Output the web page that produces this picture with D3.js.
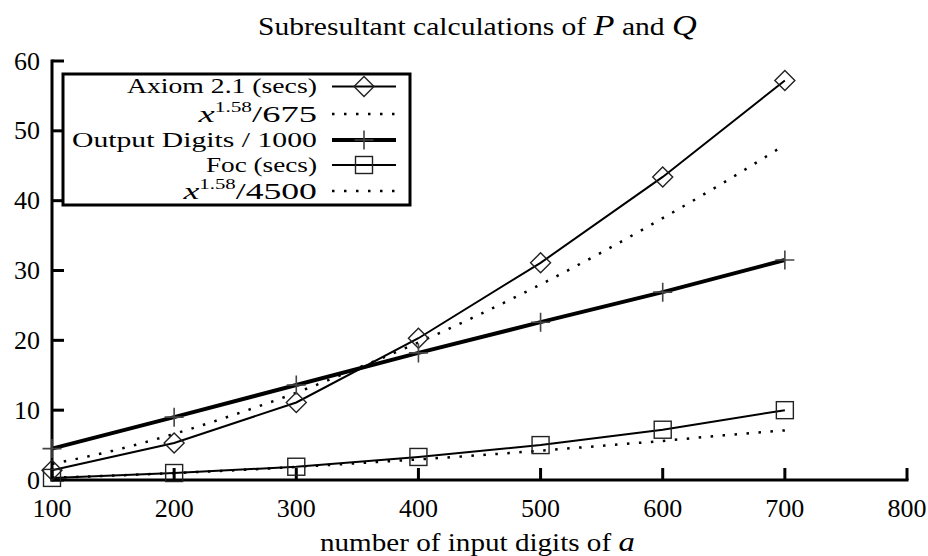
<!DOCTYPE html>
<html><head><meta charset="utf-8">
<script src="https://cdn.jsdelivr.net/npm/d3@7"></script>
<style>body{margin:0;background:#fff}svg{display:block}text{font-family:"Liberation Serif","DejaVu Serif",serif;fill:#000}</style>
</head><body><svg id="c" width="928" height="556"></svg>
<script>
const xs = [100,200,300,400,500,600,700];
const axiomSecs = [1.4,5.3,11.1,20.3,31.1,43.4,57.2];
const outputDigits = [4.5,9.0,13.6,18.2,22.6,26.9,31.5];
const focSecs = [0.3,1.0,1.9,3.3,5.0,7.2,10.0];
const fitX = [100,150,200,250,300,350,400,450,500,550,600,650,700];
const fitAxiom = [2.3,4.2,6.6,9.4,12.5,16.0,19.7,23.7,28.0,32.6,37.5,42.6,48.0];
const fitFoc = [0.33,0.63,0.99,1.40,1.87,2.4,2.95,3.55,4.2,4.9,5.6,6.4,7.1];
const xTicks = [100,200,300,400,500,600,700,800];
const yTicks = [0,10,20,30,40,50,60];

const svg = d3.select('#c');
const x = d3.scaleLinear().domain([100,800]).range([52,907]);
const y = d3.scaleLinear().domain([0,60]).range([480,61]);

// stretch a start-anchored text horizontally so it spans x0..x1
function fit(sel, x0, x1){
  const b = sel.node().getBBox();
  const s = (x1-x0)/b.width;
  sel.attr('transform',`translate(${x0 - b.x*s},0) scale(${s},1)`);
}

const line = d3.line().x(d=>x(d[0])).y(d=>y(d[1]));
const smooth = d3.line().x(d=>x(d[0])).y(d=>y(d[1])).curve(d3.curveMonotoneX);
const zip = (a,b)=>a.map((v,i)=>[v,b[i]]);

// series lines
svg.append('path').attr('d',line(zip(xs,axiomSecs))).attr('fill','none').attr('stroke','#000').attr('stroke-width',2);
svg.append('path').attr('d',smooth(zip(fitX,fitAxiom))).attr('fill','none').attr('stroke','#000').attr('stroke-width',2.5).attr('stroke-dasharray','2.5,9.5');
svg.append('path').attr('d',line(zip(xs,outputDigits))).attr('fill','none').attr('stroke','#000').attr('stroke-width',4);
svg.append('path').attr('d',line(zip(xs,focSecs))).attr('fill','none').attr('stroke','#000').attr('stroke-width',2);
svg.append('path').attr('d',smooth(zip(fitX,fitFoc))).attr('fill','none').attr('stroke','#000').attr('stroke-width',2.5).attr('stroke-dasharray','2.5,9.5');

// axes
const g = svg.append('g');
g.append('line').attr('x1',x(100)).attr('x2',x(100)).attr('y1',y(60)-1.5).attr('y2',y(0)+1.5).attr('stroke','#000').attr('stroke-width',3);
g.append('line').attr('x1',x(100)-1.5).attr('x2',x(800)+1.5).attr('y1',y(0)).attr('y2',y(0)).attr('stroke','#000').attr('stroke-width',3);
yTicks.forEach(t=>{
  g.append('line').attr('x1',x(100)).attr('x2',x(100)+12).attr('y1',y(t)).attr('y2',y(t)).attr('stroke','#000').attr('stroke-width',3);
  g.append('text').attr('x',40).attr('y',y(t)+8.5).attr('text-anchor','end').attr('font-size',26).text(t);
});
xTicks.forEach(t=>{
  g.append('line').attr('x1',x(t)).attr('x2',x(t)).attr('y1',y(0)).attr('y2',y(0)-12).attr('stroke','#000').attr('stroke-width',3);
  g.append('text').attr('x',x(t)).attr('y',517).attr('text-anchor','middle').attr('font-size',26).text(t);
});

// title
const tt = svg.append('text').attr('x',0).attr('y',35).attr('font-size',25);
tt.append('tspan').text('Subresultant calculations of ');
tt.append('tspan').attr('font-style','italic').attr('font-size',29).text('P');
tt.append('tspan').text(' and ');
tt.append('tspan').attr('font-style','italic').attr('font-size',29).text('Q');
fit(tt,258,697);
// x label
const xl = svg.append('text').attr('x',0).attr('y',551).attr('font-size',25);
xl.append('tspan').text('number of input digits of ');
xl.append('tspan').attr('font-style','italic').attr('font-size',28).text('a');
fit(xl,320,635);

function diamond(sel,cx,cy){sel.append('path').attr('d',`M${cx-10},${cy}L${cx},${cy-10}L${cx+10},${cy}L${cx},${cy+10}Z`).attr('fill','none').attr('stroke','#222').attr('stroke-width',1.4);}
function plus(sel,cx,cy){sel.append('path').attr('d',`M${cx-9.5},${cy}H${cx+9.5}M${cx},${cy-9.5}V${cy+9.5}`).attr('fill','none').attr('stroke','#444').attr('stroke-width',1.6);}
function square(sel,cx,cy){sel.append('rect').attr('x',cx-8.5).attr('y',cy-8.5).attr('width',17).attr('height',17).attr('fill','none').attr('stroke','#222').attr('stroke-width',1.4);}

const m = svg.append('g');
xs.forEach((v,i)=>{diamond(m,x(v),y(axiomSecs[i]));plus(m,x(v),y(outputDigits[i]));square(m,x(v),y(focSecs[i]));});

// legend
const lg = svg.append('g');
lg.append('rect').attr('x',63).attr('y',74).attr('width',347).attr('height',131).attr('fill','#fff').attr('stroke','#000').attr('stroke-width',3);
const rows = [86.5,114,140,165,191];
const lx1=332, lx2=396, lmid=364;
function ltext(base){return lg.append('text').attr('x',0).attr('y',base).attr('font-size',20);}
fit(ltext(93).text('Axiom 2.1 (secs)'),127,317);
let t2 = ltext(122);
t2.append('tspan').attr('font-style','italic').attr('font-size',24).text('x');
t2.append('tspan').attr('font-size',14).attr('dy',-10).text('1.58');
t2.append('tspan').attr('font-size',24).attr('dy',10).text('/675');
fit(t2,197,317);
fit(ltext(147).text('Output Digits / 1000'),72,317);
fit(ltext(172).text('Foc (secs)'),206,317);
let t5 = ltext(199);
t5.append('tspan').attr('font-style','italic').attr('font-size',24).text('x');
t5.append('tspan').attr('font-size',14).attr('dy',-10).text('1.58');
t5.append('tspan').attr('font-size',24).attr('dy',10).text('/4500');
fit(t5,182,317);

const lw=[2,2.5,4,2,2.5];
rows.forEach((ry,i)=>{
  const p = lg.append('line').attr('x1',lx1).attr('x2',lx2).attr('y1',ry).attr('y2',ry).attr('stroke','#000').attr('stroke-width',lw[i]);
  if(i===1||i===4) p.attr('stroke-dasharray','2.5,9.5');
});
diamond(lg,lmid,rows[0]); plus(lg,lmid,rows[2]); square(lg,lmid,rows[3]);
</script></body></html>
